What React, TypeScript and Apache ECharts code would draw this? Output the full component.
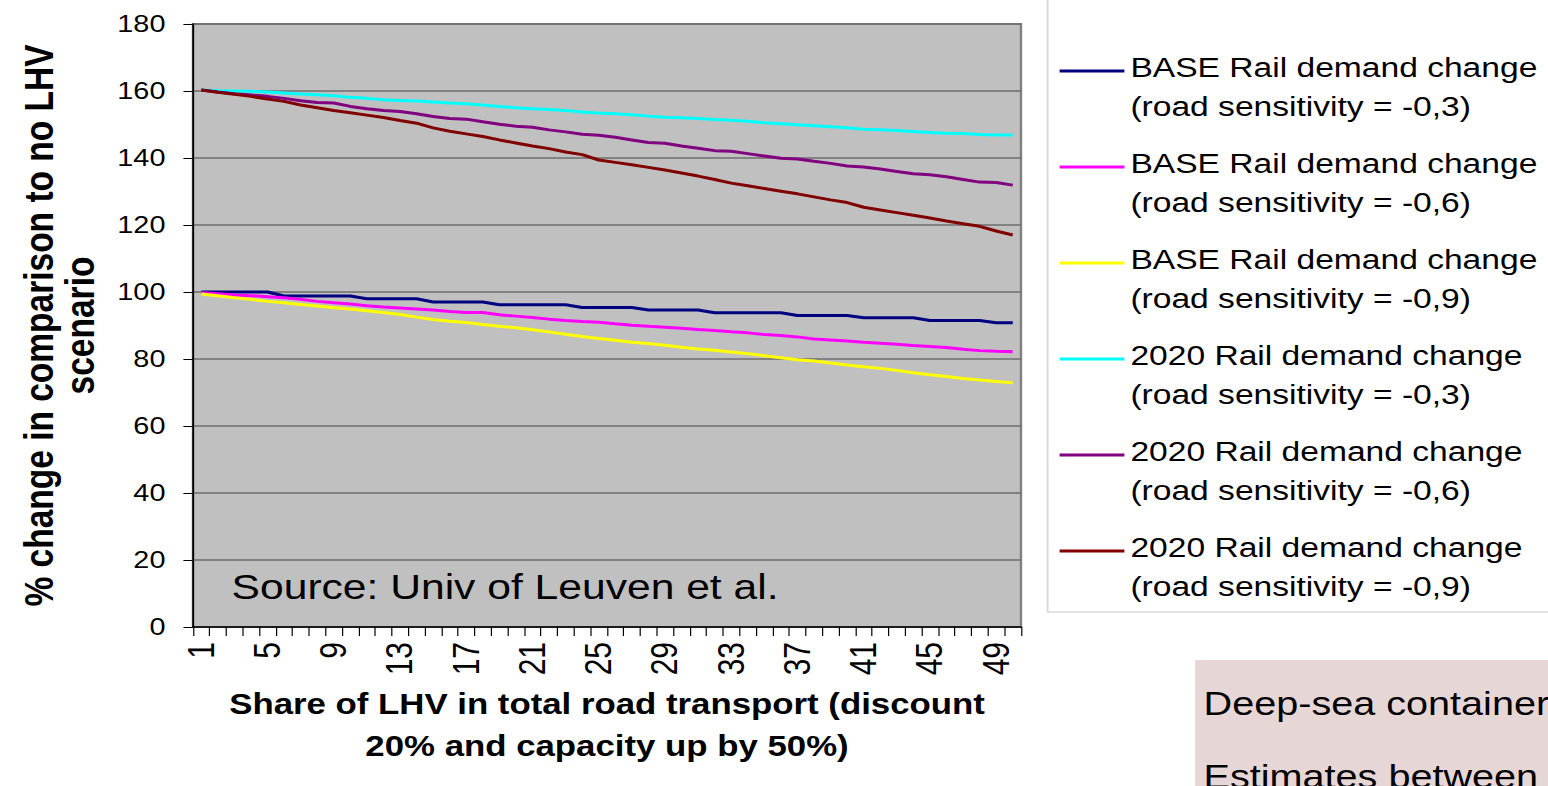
import React, { useEffect, useRef } from 'react';
import * as echarts from 'echarts';

const FONT = 'Arial, "Liberation Sans", Helvetica, sans-serif';
// The reference picture is stretched horizontally (~1.2x); the chart is drawn
// at 1290px wide and stretched with a CSS transform to fill the 1548px window.
const STRETCH = 1.2;
const W = 1548 / STRETCH;
const H = 786;

const categories = [
  '1', '2', '3', '4', '5', '6', '7', '8', '9', '10',
  '11', '12', '13', '14', '15', '16', '17', '18', '19', '20',
  '21', '22', '23', '24', '25', '26', '27', '28', '29', '30',
  '31', '32', '33', '34', '35', '36', '37', '38', '39', '40',
  '41', '42', '43', '44', '45', '46', '47', '48', '49', '50',
];

const seriesNames = [
  'BASE Rail demand change\n(road sensitivity = -0,3)',
  'BASE Rail demand change\n(road sensitivity = -0,6)',
  'BASE Rail demand change\n(road sensitivity = -0,9)',
  '2020 Rail demand change\n(road sensitivity = -0,3)',
  '2020 Rail demand change\n(road sensitivity = -0,6)',
  '2020 Rail demand change\n(road sensitivity = -0,9)',
];

const seriesColors = ['#000080', '#ff00ff', '#ffff00', '#00ffff', '#800080', '#800000'];

const base03 = [
  100, 100, 100, 100, 100, 98.8, 98.8, 98.8, 98.8, 98.8,
  98.0, 98.0, 98.0, 98.0, 97.0, 97.0, 97.0, 97.0, 96.2, 96.2,
  96.2, 96.2, 96.2, 95.4, 95.4, 95.4, 95.4, 94.6, 94.6, 94.6,
  94.6, 93.8, 93.8, 93.8, 93.8, 93.8, 93.0, 93.0, 93.0, 93.0,
  92.3, 92.3, 92.3, 92.3, 91.5, 91.5, 91.5, 91.5, 90.8, 90.8,
];

const base06 = [
  99.8, 99.5, 99.1, 98.9, 98.6, 98.3, 97.8, 97.2, 96.8, 96.4,
  95.9, 95.5, 95.2, 94.9, 94.6, 94.2, 93.9, 93.9, 93.2, 92.8,
  92.4, 91.9, 91.5, 91.2, 91.0, 90.5, 90.1, 89.8, 89.5, 89.2,
  88.8, 88.5, 88.1, 87.8, 87.3, 87.0, 86.6, 86.0, 85.7, 85.4,
  85.0, 84.7, 84.4, 84.0, 83.7, 83.4, 82.9, 82.5, 82.3, 82.2,
];

const base09 = [
  99.4, 98.9, 98.3, 97.8, 97.2, 96.8, 96.3, 95.8, 95.3, 94.9,
  94.4, 93.9, 93.3, 92.5, 91.8, 91.3, 90.9, 90.3, 89.8, 89.3,
  88.7, 88.1, 87.4, 86.7, 86.1, 85.6, 85.0, 84.6, 84.1, 83.5,
  83.0, 82.6, 82.1, 81.6, 81.0, 80.4, 79.8, 79.4, 78.8, 78.2,
  77.7, 77.2, 76.6, 75.9, 75.3, 74.8, 74.2, 73.7, 73.3, 72.9,
];

const y2020_03 = [
  160.3, 160.1, 160.0, 159.9, 159.7, 159.4, 159.1, 158.9, 158.6, 158.1,
  157.8, 157.4, 157.2, 157.0, 156.7, 156.4, 156.2, 155.8, 155.4, 155.0,
  154.7, 154.5, 154.2, 153.7, 153.4, 153.2, 152.9, 152.5, 152.2, 152.0,
  151.8, 151.5, 151.3, 151.0, 150.5, 150.2, 149.9, 149.6, 149.3, 149.0,
  148.6, 148.4, 148.2, 147.9, 147.6, 147.4, 147.3, 147.0, 146.9, 146.9,
];

const y2020_06 = [
  160.3, 159.7, 159.2, 158.8, 158.4, 157.8, 157.1, 156.6, 156.4, 155.4,
  154.7, 154.2, 153.9, 153.2, 152.4, 151.8, 151.6, 150.8, 150.1, 149.5,
  149.2, 148.4, 147.8, 147.1, 146.8, 146.2, 145.4, 144.6, 144.4, 143.6,
  142.9, 142.2, 142.0, 141.3, 140.6, 139.9, 139.7, 139.0, 138.4, 137.6,
  137.3, 136.7, 136.0, 135.3, 135.0, 134.4, 133.6, 132.8, 132.7, 131.9,
];

const y2020_09 = [
  160.3, 159.6, 159.0, 158.4, 157.6, 156.9, 155.8, 155.0, 154.2, 153.5,
  152.8, 152.1, 151.2, 150.4, 149.0, 148.0, 147.2, 146.4, 145.4, 144.5,
  143.6, 142.8, 141.8, 141.0, 139.4, 138.7, 138.0, 137.2, 136.4, 135.5,
  134.6, 133.6, 132.5, 131.7, 130.9, 130.1, 129.3, 128.4, 127.5, 126.7,
  125.3, 124.5, 123.7, 122.9, 122.1, 121.2, 120.4, 119.6, 118.2, 117.0,
];

const seriesData = [base03, base06, base09, y2020_03, y2020_06, y2020_09];

const xTitle = 'Share of LHV in total road transport (discount\n20% and capacity up by 50%)';
const yTitle = '% change in comparison to no LHV\nscenario';
const sourceText = 'Source: Univ of Leuven et al.';
const sideLines = ['Deep-sea container', 'Estimates between'];

// legend icon: a thin bar near the top of a 54 x 40 box (so it sits level with the first text line)
const LEGEND_ICON = 'path://M0,0L0,0M0,2.5L54,2.5L54,5.5L0,5.5ZM54,40L54,40';

function buildOption(): echarts.EChartsCoreOption {
  const gridLeft = 193 / STRETCH;
  const gridRight = W - 1021 / STRETCH;
  return {
    animation: false,
    backgroundColor: '#ffffff',
    textStyle: { fontFamily: FONT },
    grid: {
      left: gridLeft,
      right: gridRight,
      top: 24,
      bottom: H - 627,
      show: true,
      backgroundColor: '#c0c0c0',
      borderColor: '#808080',
      borderWidth: 2,
    },
    legend: {
      orient: 'vertical',
      left: 883,
      top: 47,
      padding: 0,
      itemGap: 16,
      itemWidth: 54,
      itemHeight: 40,
      icon: LEGEND_ICON,
      selectedMode: false,
      data: seriesNames,
      textStyle: {
        fontFamily: FONT,
        fontSize: 28,
        lineHeight: 40,
        color: '#000',
      },
    },
    xAxis: {
      type: 'category',
      data: categories,
      boundaryGap: true,
      axisLine: { show: true, lineStyle: { color: '#000', width: 1.5 } },
      axisTick: { show: true, interval: 0, length: 9, lineStyle: { color: '#000', width: 1 } },
      axisLabel: {
        interval: 3,
        rotate: 90,
        fontSize: 30,
        color: '#000',
        fontFamily: FONT,
        margin: 15,
      },
      splitLine: { show: false },
      name: xTitle,
      nameLocation: 'middle',
      nameGap: 48,
      nameTextStyle: {
        fontFamily: FONT,
        fontWeight: 'bold',
        fontSize: 29,
        lineHeight: 42,
        color: '#000',
      },
    },
    yAxis: {
      type: 'value',
      min: 0,
      max: 180,
      interval: 20,
      axisLine: { show: true, lineStyle: { color: '#000', width: 1.5 } },
      axisTick: { show: true, length: 8, lineStyle: { color: '#000', width: 1 } },
      axisLabel: { fontSize: 24, color: '#000', fontFamily: FONT, margin: 23 },
      splitLine: { show: true, lineStyle: { color: '#6e6e6e', width: 1.5 } },
      name: yTitle,
      nameLocation: 'middle',
      nameGap: 77,
      nameTextStyle: {
        fontFamily: FONT,
        fontWeight: 'bold',
        fontSize: 33.5,
        lineHeight: 34,
        color: '#000',
      },
    },
    series: seriesNames.map((name, i) => ({
      name,
      type: 'line',
      data: seriesData[i],
      symbol: 'none',
      color: seriesColors[i],
      itemStyle: { color: seriesColors[i] },
      lineStyle: { color: seriesColors[i], width: 3 },
      z: 2 + i,
    })),
    graphic: [
      {
        type: 'rect',
        z: 0,
        shape: { x: 873, y: -5, width: 500, height: 617 },
        style: { fill: '#ffffff', stroke: '#d9d9d9', lineWidth: 1.5 },
      },
      {
        type: 'rect',
        z: 0,
        shape: { x: 996, y: 660, width: 400, height: 200 },
        style: { fill: '#e7d6d6' },
      },
      {
        type: 'text',
        z: 1,
        x: 1003,
        y: 704,
        style: { text: sideLines[0], fontFamily: FONT, fontSize: 33, fill: '#000', verticalAlign: 'middle' },
      },
      {
        type: 'text',
        z: 1,
        x: 1003,
        y: 777,
        style: { text: sideLines[1], fontFamily: FONT, fontSize: 33, fill: '#000', verticalAlign: 'middle' },
      },
      {
        type: 'text',
        z: 100,
        x: 193,
        y: 587,
        style: { text: sourceText, fontFamily: FONT, fontSize: 35.5, fill: '#000', verticalAlign: 'middle' },
      },
    ],
  };
}

export default function App() {
  const ref = useRef<HTMLDivElement>(null);
  useEffect(() => {
    if (!ref.current) return;
    const chart = echarts.init(ref.current, null, { renderer: 'svg' });
    chart.setOption(buildOption());
    return () => chart.dispose();
  }, []);
  return (
    <div
      ref={ref}
      style={{
        position: 'fixed',
        left: 0,
        top: 0,
        width: W,
        height: H,
        transform: `scaleX(${STRETCH})`,
        transformOrigin: '0 0',
        background: '#ffffff',
      }}
    />
  );
}
